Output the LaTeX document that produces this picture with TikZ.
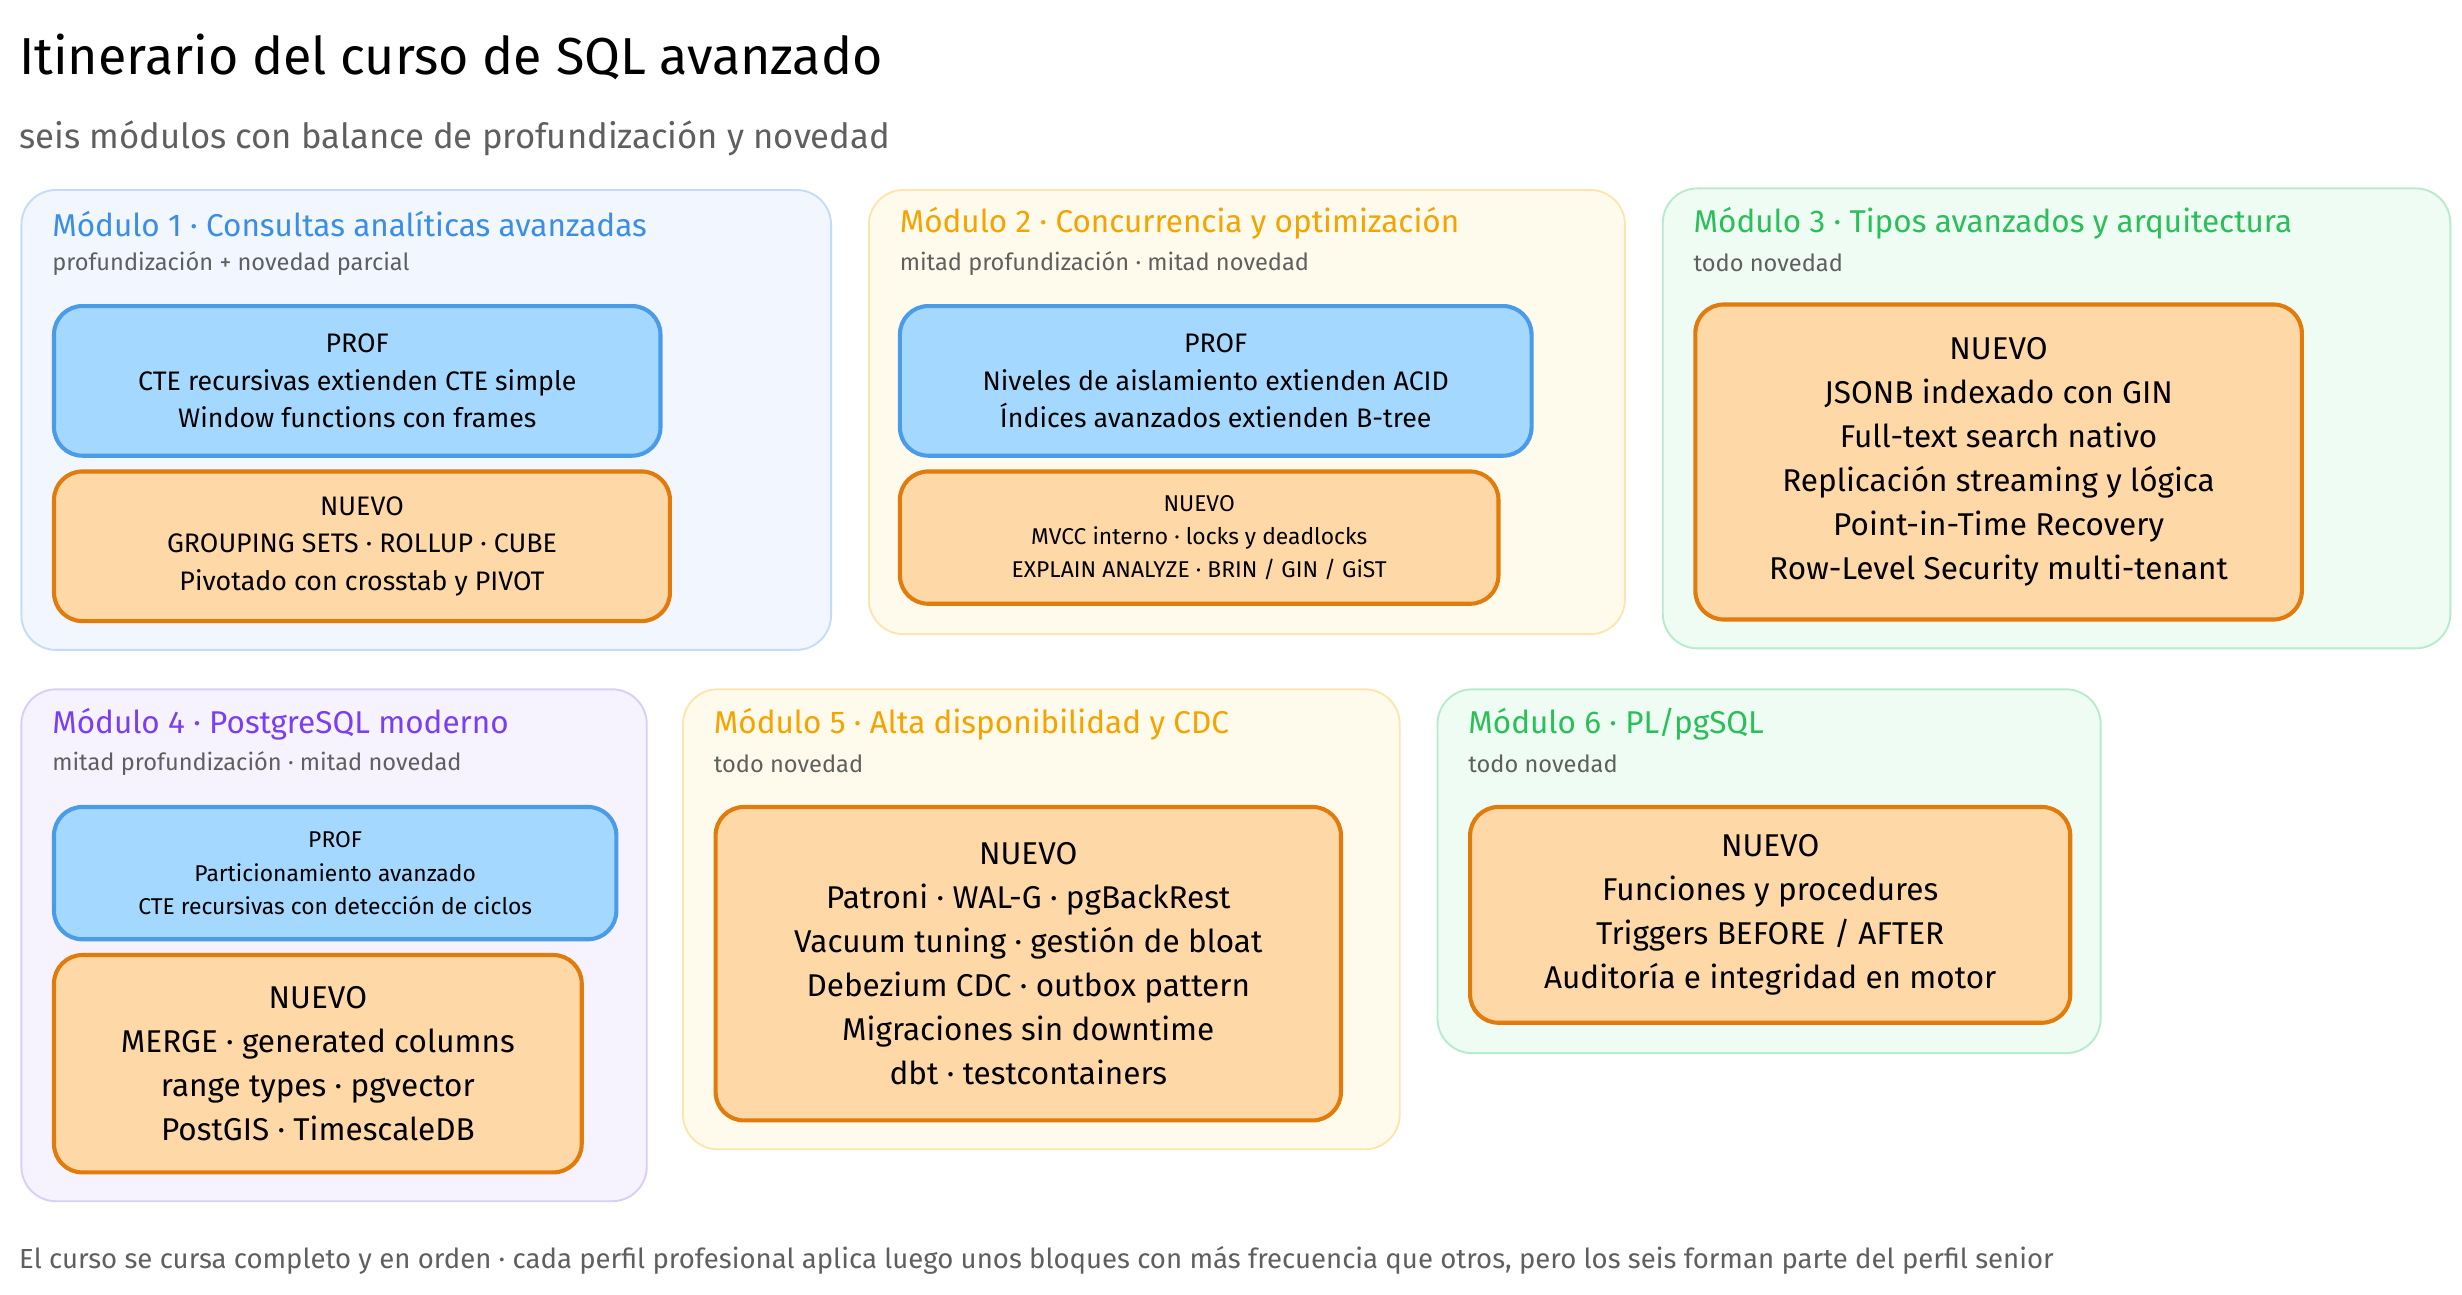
\documentclass[tikz,border=0pt]{standalone}
\usepackage{fontspec}
\setmainfont{Fira Sans}
\usetikzlibrary{positioning}

\definecolor{profFill}{HTML}{A5D8FF}
\definecolor{profLine}{HTML}{4A9BE8}
\definecolor{newFill}{HTML}{FFD8A8}
\definecolor{newLine}{HTML}{E07B0C}
\definecolor{blueBg}{HTML}{F1F6FF}
\definecolor{blueBd}{HTML}{C6DCF6}
\definecolor{yelBg}{HTML}{FFFBEC}
\definecolor{yelBd}{HTML}{FCE6AE}
\definecolor{grnBg}{HTML}{EEFCF3}
\definecolor{grnBd}{HTML}{B8EBCD}
\definecolor{purBg}{HTML}{F6F3FF}
\definecolor{purBd}{HTML}{D8CEF6}
\definecolor{blueT}{HTML}{3B8EE6}
\definecolor{orT}{HTML}{F5A300}
\definecolor{grnT}{HTML}{2BBF5A}
\definecolor{purT}{HTML}{7A3FF0}
\definecolor{greyT}{HTML}{5F5F5F}

\tikzset{
  panel/.style={draw=#1Bd, fill=#1Bg, line width=1.2pt, rounded corners=22pt, anchor=north west, inner sep=0pt},
  box/.style={line width=2.6pt, rounded corners=18pt, anchor=north west, align=center, inner sep=0pt},
  prof/.style={box, draw=profLine, fill=profFill},
  nuevo/.style={box, draw=newLine, fill=newFill},
  mtitle/.style={anchor=west, inner sep=0pt, font=\fontsize{20}{24}\selectfont},
  msub/.style={anchor=west, inner sep=0pt, text=greyT, font=\fontsize{15}{18}\selectfont},
  txt/.style={font=\fontsize{17}{24}\selectfont},
  txts/.style={font=\fontsize{14.5}{21}\selectfont},
  txtl/.style={font=\fontsize{20}{28}\selectfont},
}

\begin{document}
\begin{tikzpicture}[x=1pt,y=-1pt]
    \useasboundingbox (0,0) rectangle (1563,822);

    % Title
    \node (title) [anchor=west, inner sep=0pt, font=\fontsize{33}{38}\selectfont] at (12,36) {Itinerario del curso de SQL avanzado};
    \node (subtitle) [anchor=west, inner sep=0pt, text=greyT, font=\fontsize{22}{26}\selectfont] at (12,88) {seis módulos con balance de profundización y novedad};

    % Module 1
    \node (m1) [panel=blue, minimum width=514pt, minimum height=292pt] at (13,120) {};
    \node (m1t) [mtitle, text=blueT] at (33,142) {Módulo 1 · Consultas analíticas avanzadas};
    \node (m1s) [msub] at (33,167) {profundización + novedad parcial};
    \node (m1p) [prof, minimum width=385pt, minimum height=95pt, txt] at (33,193) {PROF\\CTE recursivas extienden CTE simple\\Window functions con frames};
    \node (m1n) [nuevo, minimum width=391pt, minimum height=95pt, txt] at (33,298) {NUEVO\\GROUPING SETS · ROLLUP · CUBE\\Pivotado con crosstab y PIVOT};

    % Module 2
    \node (m2) [panel=yel, minimum width=480pt, minimum height=282pt] at (551,120) {};
    \node (m2t) [mtitle, text=orT] at (571,142) {Módulo 2 · Concurrencia y optimización};
    \node (m2s) [msub] at (571,167) {mitad profundización · mitad novedad};
    \node (m2p) [prof, minimum width=401pt, minimum height=95pt, txt] at (570,193) {PROF\\Niveles de aislamiento extienden ACID\\Índices avanzados extienden B-tree};
    \node (m2n) [nuevo, minimum width=380pt, minimum height=84pt, txts] at (570,298) {NUEVO\\MVCC interno · locks y deadlocks\\EXPLAIN ANALYZE · BRIN / GIN / GiST};

    % Module 3
    \node (m3) [panel=grn, minimum width=500pt, minimum height=292pt] at (1055,119) {};
    \node (m3t) [mtitle, text=grnT] at (1075,142) {Módulo 3 · Tipos avanzados y arquitectura};
    \node (m3s) [msub] at (1075,167) {todo novedad};
    \node (m3n) [nuevo, minimum width=385pt, minimum height=200pt, txtl] at (1075,192) {NUEVO\\JSONB indexado con GIN\\Full-text search nativo\\Replicación streaming y lógica\\Point-in-Time Recovery\\Row-Level Security multi-tenant};

    % Module 4
    \node (m4) [panel=pur, minimum width=397pt, minimum height=325pt] at (13,437) {};
    \node (m4t) [mtitle, text=purT] at (33,460) {Módulo 4 · PostgreSQL moderno};
    \node (m4s) [msub] at (33,485) {mitad profundización · mitad novedad};
    \node (m4p) [prof, minimum width=357pt, minimum height=84pt, txts] at (33,511) {PROF\\Particionamiento avanzado\\CTE recursivas con detección de ciclos};
    \node (m4n) [nuevo, minimum width=335pt, minimum height=138pt, txtl] at (33,605) {NUEVO\\MERGE · generated columns\\range types · pgvector\\PostGIS · TimescaleDB};

    % Module 5
    \node (m5) [panel=yel, minimum width=455pt, minimum height=292pt] at (433,437) {};
    \node (m5t) [mtitle, text=orT] at (453,460) {Módulo 5 · Alta disponibilidad y CDC};
    \node (m5s) [msub] at (453,485) {todo novedad};
    \node (m5n) [nuevo, minimum width=397pt, minimum height=199pt, txtl] at (453,511) {NUEVO\\Patroni · WAL-G · pgBackRest\\Vacuum tuning · gestión de bloat\\Debezium CDC · outbox pattern\\Migraciones sin downtime\\dbt · testcontainers};

    % Module 6
    \node (m6) [panel=grn, minimum width=421pt, minimum height=231pt] at (912,437) {};
    \node (m6t) [mtitle, text=grnT] at (932,460) {Módulo 6 · PL/pgSQL};
    \node (m6s) [msub] at (932,485) {todo novedad};
    \node (m6n) [nuevo, minimum width=381pt, minimum height=137pt, txtl] at (932,511) {NUEVO\\Funciones y procedures\\Triggers BEFORE / AFTER\\Auditoría e integridad en motor};

    % Footer
    \node (foot) [anchor=west, inner sep=0pt, text=greyT, font=\fontsize{17.5}{20}\selectfont] at (12,800) {El curso se cursa completo y en orden · cada perfil profesional aplica luego unos bloques con más frecuencia que otros, pero los seis forman parte del perfil senior};
\end{tikzpicture}
\end{document}
